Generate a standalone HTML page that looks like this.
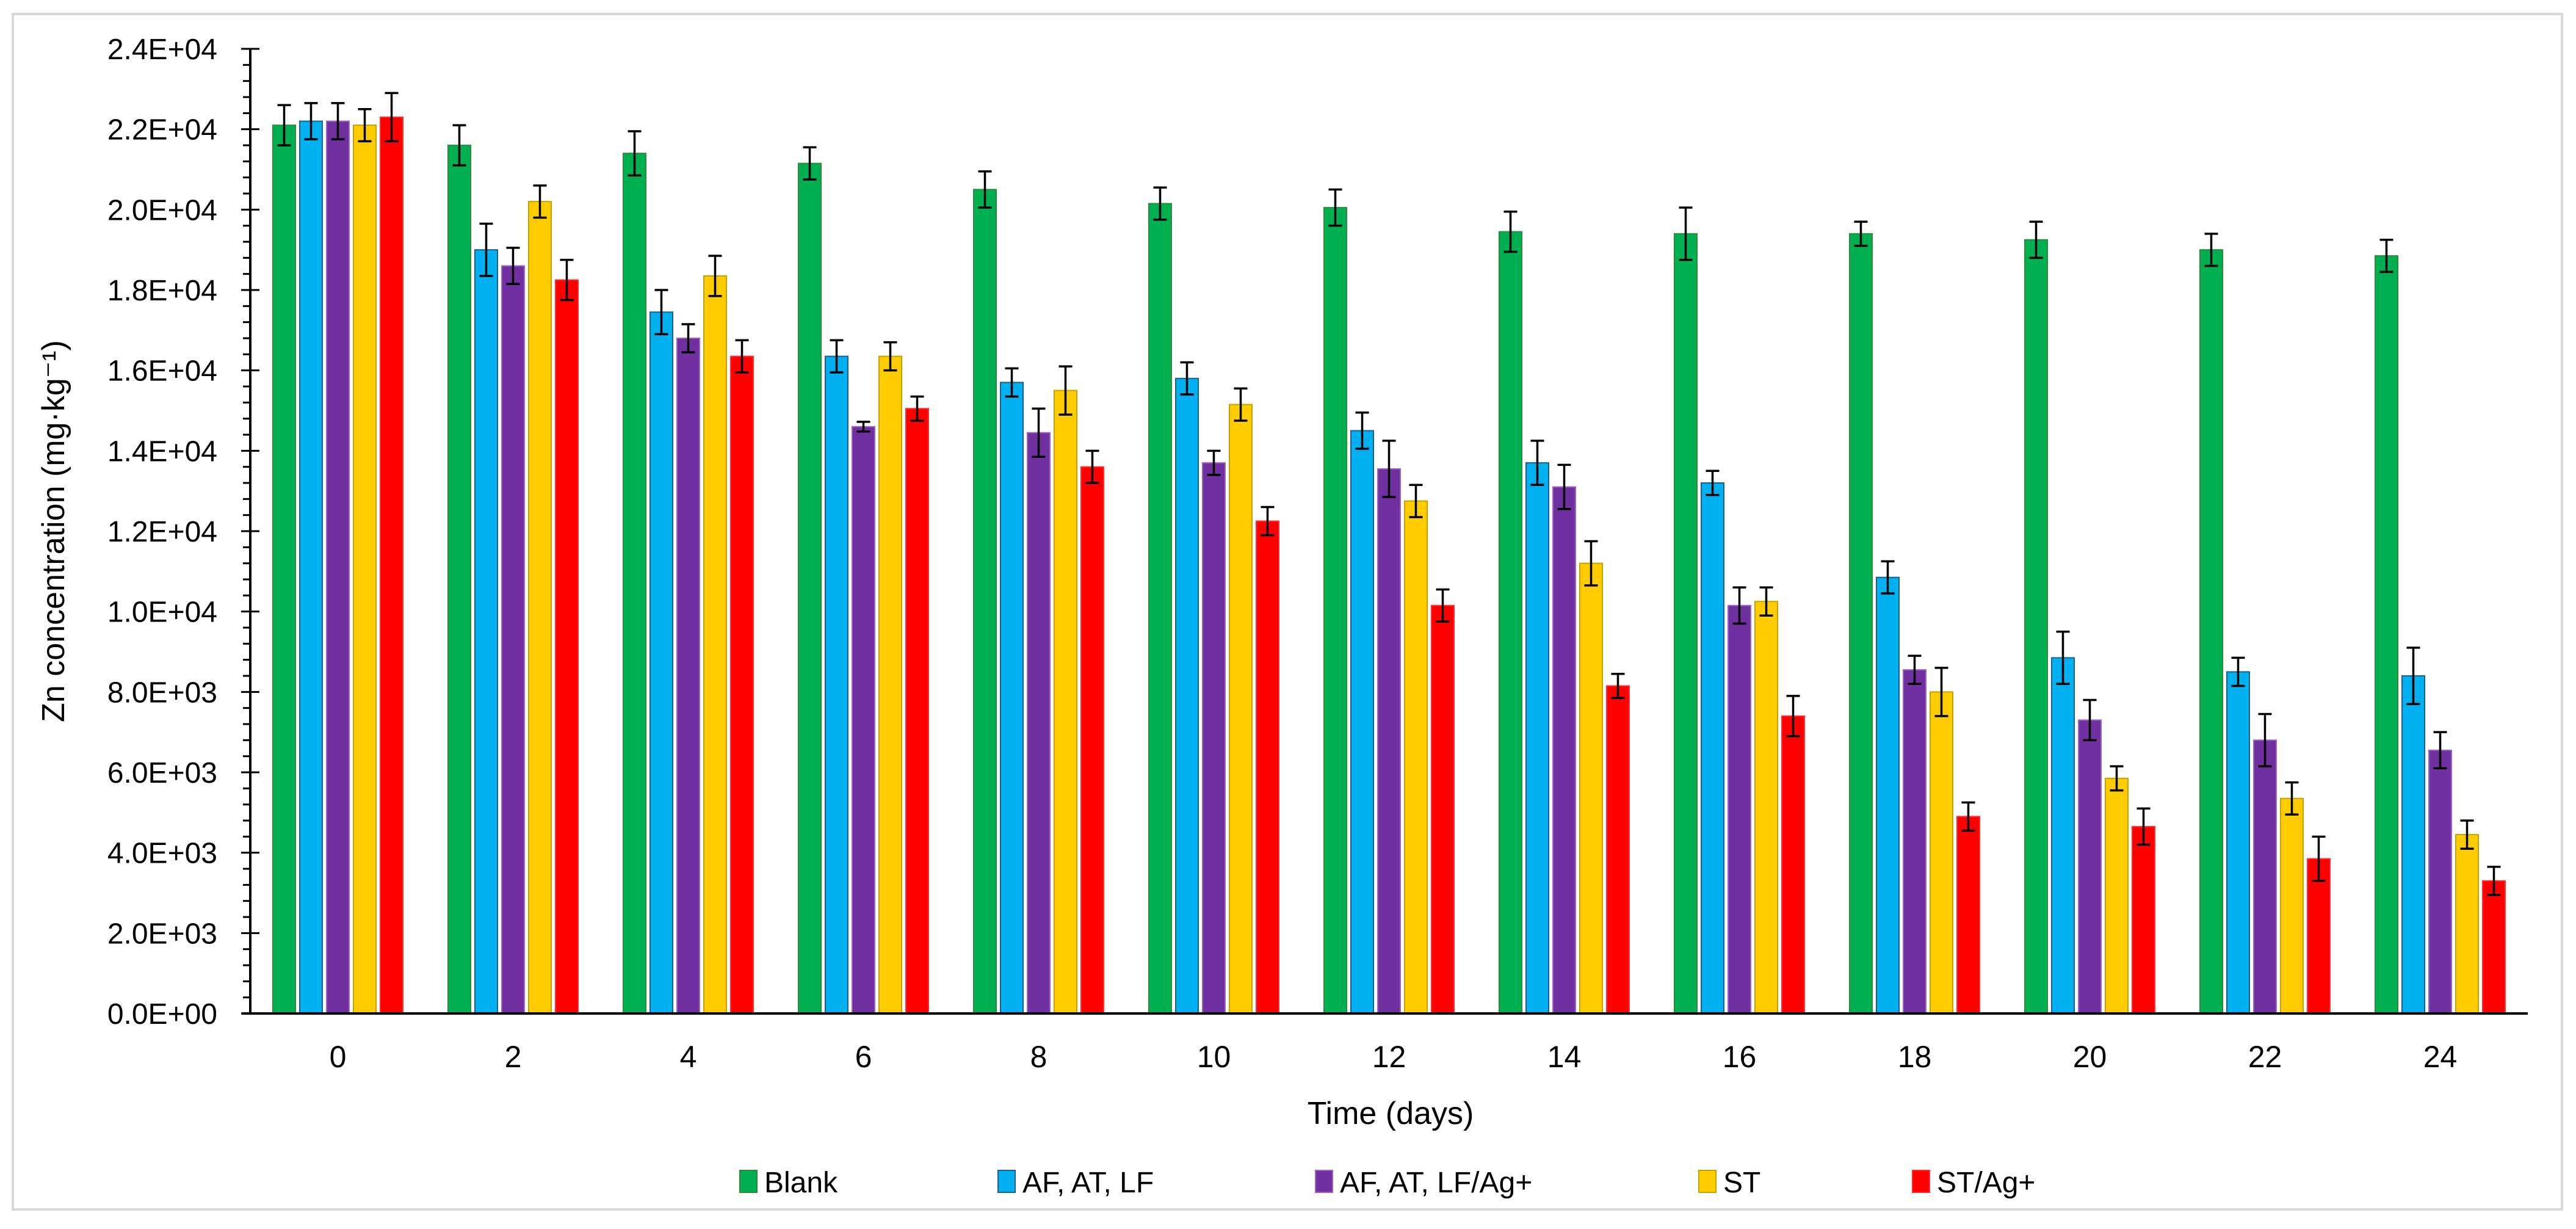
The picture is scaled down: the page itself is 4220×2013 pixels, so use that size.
<!DOCTYPE html>
<html><head><meta charset="utf-8"><style>
html,body{margin:0;padding:0;background:#fff;}
svg{display:block;font-family:"Liberation Sans",sans-serif;}
</style></head><body>
<svg id="chart" width="4220" height="2013" viewBox="0 0 4220 2013" xmlns="http://www.w3.org/2000/svg">
<rect x="21" y="23" width="4176" height="1958" fill="#fff" stroke="#d9d9d9" stroke-width="4"/>
<g id="bars"></g>
<g id="axes"></g>
<text x="0" y="0" transform="translate(105,870) rotate(-90)" font-size="52" text-anchor="middle" fill="#000">Zn concentration (mg·kg⁻¹)</text>
<text x="2278" y="1841" font-size="52" text-anchor="middle" fill="#000">Time (days)</text>
<g id="legend"></g>
</svg>
<script>
const categories = ["0","2","4","6","8","10","12","14","16","18","20","22","24"];
const seriesNames = ["Blank","AF, AT, LF","AF, AT, LF/Ag+","ST","ST/Ag+"];
const blank   = [22100,21600,21400,21150,20500,20150,20050,19450,19400,19400,19250,19000,18850];
const afAtLf  = [22200,19000,17450,16350,15700,15800,14500,13700,13200,10850,8850,8500,8400];
const afAtLfAg= [22200,18600,16800,14600,14450,13700,13550,13100,10150,8550,7300,6800,6550];
const st      = [22100,20200,18350,16350,15500,15150,12750,11200,10250,8000,5850,5350,4450];
const stAg    = [22300,18250,16350,15050,13600,12250,10150,8150,7400,4900,4650,3850,3300];
const errBlank   = [500,500,550,400,450,400,450,500,650,300,450,400,400];
const errAfAtLf  = [450,650,550,400,350,400,450,550,300,400,650,350,700];
const errAfAtLfAg= [450,450,350,120,600,300,700,550,450,350,500,650,450];
const errSt      = [400,400,500,350,600,400,400,550,350,600,300,400,350];
const errStAg    = [600,500,400,300,400,350,400,300,500,350,450,550,350];
const yTicks = [0,2000,4000,6000,8000,10000,12000,14000,16000,18000,20000,22000,24000];
const yTickLabels = ["0.0E+00","2.0E+03","4.0E+03","6.0E+03","8.0E+03","1.0E+04","1.2E+04","1.4E+04","1.6E+04","1.8E+04","2.0E+04","2.2E+04","2.4E+04"];

const series = [blank, afAtLf, afAtLfAg, st, stAg];
const errs = [errBlank, errAfAtLf, errAfAtLfAg, errSt, errStAg];
const fills = ["#00b050","#00b0f0","#7030a0","#ffcc00","#ff0000"];
const strokes = ["#2e8b3e","#1f5f8b","#9a63c4","#c9a000","#ff3030"];
const keys = ["blank","af-at-lf","af-at-lf-ag","st","st-ag"];
const NS = "http://www.w3.org/2000/svg";
const X0 = 410, X1 = 4141, Y0 = 1660, YTOP = 80, YMAX = 24000;
const catW = (X1 - X0) / categories.length;
const barW = 37, step = 44;
function yScale(v){ return Y0 - (v / YMAX) * (Y0 - YTOP); }
function xCenter(i){ return X0 + catW * (i + 0.5); }
function mk(tag, attrs, parent){ const e = document.createElementNS(NS, tag); for (const k in attrs) e.setAttribute(k, attrs[k]); parent.appendChild(e); return e; }

const gb = document.getElementById("bars");
series.forEach((vals, s) => {
  vals.forEach((v, i) => {
    const x = xCenter(i) + (s - 2) * step - barW / 2;
    const r = mk("rect", {x: x, y: yScale(v), width: barW, height: Y0 - yScale(v), fill: fills[s], stroke: strokes[s], "stroke-width": 2}, gb);
    
    
    const cx = x + barW / 2, e = errs[s][i];
    const eb = mk("path", {d: `M${cx},${yScale(v+e)}V${yScale(v-e)}M${cx-11},${yScale(v+e)}h22M${cx-11},${yScale(v-e)}h22`, stroke: "#000", "stroke-width": 3.5, fill: "none"}, gb);
    
    
  });
});

const ga = document.getElementById("axes");
const ya = mk("line", {x1: X0, y1: YTOP, x2: X0, y2: Y0, stroke: "#000", "stroke-width": 4}, ga);


const xa = mk("line", {x1: X0 - 14, y1: Y0, x2: X1, y2: Y0, stroke: "#000", "stroke-width": 4}, ga);


for (let v = 0; v <= YMAX; v += 400) {
  if (v % 2000 !== 0) mk("line", {x1: X0 - 12, y1: yScale(v), x2: X0, y2: yScale(v), stroke: "#000", "stroke-width": 3}, ga);
}
yTicks.forEach((v, i) => {
  mk("line", {x1: X0 - 15, y1: yScale(v), x2: X0 + 15, y2: yScale(v), stroke: "#000", "stroke-width": 3}, ga);
  const t = mk("text", {x: 356, y: yScale(v) + 17, "font-size": 48, "text-anchor": "end", fill: "#000"}, ga);
  t.textContent = yTickLabels[i];
  
  
});
categories.forEach((c, i) => {
  const t = mk("text", {x: xCenter(i), y: 1748, "font-size": 50, "text-anchor": "middle", fill: "#000"}, ga);
  t.textContent = c;
  
  
});

const gl = document.getElementById("legend");
const legX = [1212, 1635, 2155, 2783, 3133];
seriesNames.forEach((n, s) => {
  const g = mk("g", {}, gl);
  
  
  mk("rect", {x: legX[s], y: 1917, width: 28, height: 36, fill: fills[s], stroke: strokes[s], "stroke-width": 2}, g);
  const t = mk("text", {x: legX[s] + 40, y: 1953, "font-size": 48, fill: "#000"}, g);
  t.textContent = n;
});
</script>
</body></html>
